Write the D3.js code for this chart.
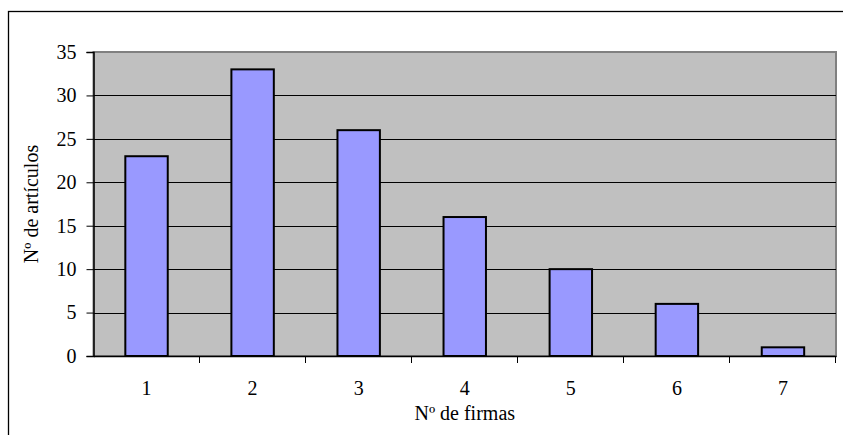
<!DOCTYPE html>
<html>
<head>
<meta charset="utf-8">
<title>Nº de artículos por Nº de firmas</title>
<script src="https://cdn.jsdelivr.net/npm/d3@7"></script>
<style>
  body { margin: 0; background: #fff; }
  svg text { font-family: "Liberation Serif", "Times New Roman", serif; fill: #000; }
</style>
</head>
<body>
<div id="chart"></div>
<script>
  // datos del gráfico
  var categorias = ["1", "2", "3", "4", "5", "6", "7"];
  var articulos = [23, 33, 26, 16, 10, 6, 1];
  var yTicks = [0, 5, 10, 15, 20, 25, 30, 35];

  var width = 843, height = 435;
  var plot = { left: 93.5, top: 52, right: 836, bottom: 356 };
  var fs = "20px";

  var svg = d3.select("#chart").append("svg")
      .attr("width", width)
      .attr("height", height);

  // marco exterior (cortado por la derecha y abajo)
  svg.append("rect")
      .attr("x", 8.5).attr("y", 11.5)
      .attr("width", 850).attr("height", 440)
      .attr("fill", "#fff")
      .attr("stroke", "#000")
      .attr("stroke-width", 1.3);

  var x = d3.scaleBand()
      .domain(categorias)
      .range([plot.left, plot.right])
      .paddingInner(0.6)
      .paddingOuter(0.3);

  var xBand = d3.scaleBand()
      .domain(categorias)
      .range([plot.left, plot.right]);

  var y = d3.scaleLinear()
      .domain([0, 35])
      .range([plot.bottom, plot.top]);

  // fondo del área de trazado
  svg.append("rect")
      .attr("x", plot.left).attr("y", plot.top)
      .attr("width", plot.right - plot.left)
      .attr("height", plot.bottom - plot.top)
      .attr("fill", "#c0c0c0")
      .attr("stroke", "#808080")
      .attr("stroke-width", 2);

  // líneas de división
  svg.append("g").selectAll("line")
      .data(yTicks.filter(function(d) { return d > 0 && d < 35; }))
      .enter().append("line")
      .attr("x1", plot.left).attr("x2", plot.right)
      .attr("y1", function(d) { return Math.round(y(d)) + 0.5; })
      .attr("y2", function(d) { return Math.round(y(d)) + 0.5; })
      .attr("stroke", "#000")
      .attr("stroke-width", 1);

  // barras
  svg.append("g").selectAll("rect")
      .data(articulos)
      .enter().append("rect")
      .attr("x", function(d, i) { return x(categorias[i]); })
      .attr("y", function(d) { return y(d); })
      .attr("width", x.bandwidth())
      .attr("height", function(d) { return y(0) - y(d); })
      .attr("fill", "#9999ff")
      .attr("stroke", "#000")
      .attr("stroke-width", 2);

  // eje Y
  var yAxis = svg.append("g")
      .attr("transform", "translate(" + plot.left + ",0)")
      .call(d3.axisLeft(y).tickValues(yTicks).tickSize(7).tickPadding(10));
  yAxis.selectAll("text").style("font-size", fs);

  // eje X
  var xAxis = svg.append("g")
      .attr("transform", "translate(0," + plot.bottom + ")")
      .call(d3.axisBottom(xBand).tickSize(0).tickPadding(25));
  xAxis.selectAll("text").style("font-size", fs);
  xAxis.selectAll(".tick line").remove();

  // marcas entre categorías
  svg.append("g").selectAll("line")
      .data(categorias)
      .enter().append("line")
      .attr("x1", function(d) { return Math.round(xBand(d) + xBand.bandwidth()) - 0.5; })
      .attr("x2", function(d) { return Math.round(xBand(d) + xBand.bandwidth()) - 0.5; })
      .attr("y1", plot.bottom)
      .attr("y2", plot.bottom + 7)
      .attr("stroke", "#000");

  svg.selectAll(".domain").attr("stroke", "#000").attr("stroke-width", 1.5);

  // títulos de los ejes
  svg.append("text")
      .attr("x", (plot.left + plot.right) / 2)
      .attr("y", 420)
      .attr("text-anchor", "middle")
      .style("font-size", fs)
      .text("Nº de firmas");

  svg.append("text")
      .attr("transform", "translate(38," + (plot.top + plot.bottom) / 2 + ") rotate(-90)")
      .attr("text-anchor", "middle")
      .style("font-size", fs)
      .text("Nº de artículos");
</script>
</body>
</html>
